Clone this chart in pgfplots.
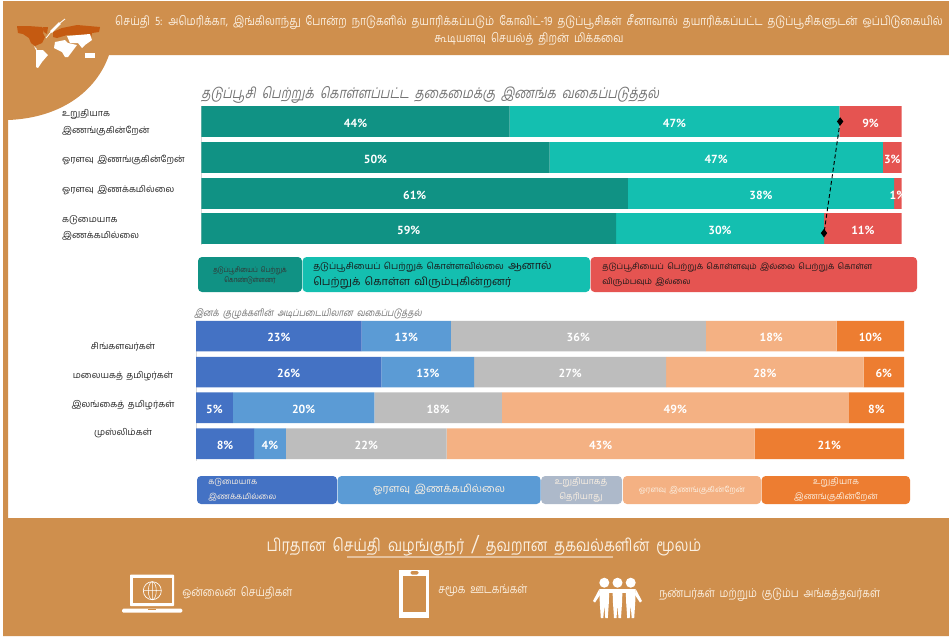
\documentclass[border=0pt]{standalone}
\usepackage{fontspec}
\usepackage{pgfplots}
\pgfplotsset{compat=1.18}
\newfontfamily\tam[Script=Tamil,WordSpace=1.6]{Hind Madurai}
\newfontfamily\tamn[Script=Tamil,FakeStretch=0.82,WordSpace=2]{Hind Madurai}
\newfontfamily\tami[Script=Tamil,FakeSlant=0.2,FakeStretch=0.82,WordSpace=2]{Hind Madurai}
\newfontfamily\din{PT Sans}
\newcommand{\fs}[2]{\fontsize{#1}{#2}\selectfont}
\definecolor{brownbg}{HTML}{CF8F4D}
\definecolor{mapbrown}{HTML}{C55A11}
\definecolor{cream}{HTML}{FBF0E2}
\definecolor{tealA}{HTML}{109284}
\definecolor{tealB}{HTML}{14BFB0}
\definecolor{redC}{HTML}{E55451}
\definecolor{blueA}{HTML}{4472C4}
\definecolor{blueB}{HTML}{5B9BD5}
\definecolor{greyC}{HTML}{BDBDBD}
\definecolor{peachD}{HTML}{F4B183}
\definecolor{orangeE}{HTML}{ED7D31}
\definecolor{chipgrey}{HTML}{ADB9CA}
\pgfplotsset{
  barchart/.style={
    scale only axis,
    xbar stacked,
    y dir=reverse,
    xmin=0,xmax=100,
    axis x line=none,
    axis y line=left,
    y axis line style={draw=black!15,-},
    major tick length=0pt,
    point meta=explicit symbolic,
    nodes near coords={\pgfplotspointmeta\%},
    every node near coord/.append style={text=white,yshift=-1.1pt,font=\din\bfseries\fs{8.8}{11}},
  },
}
\begin{document}
\begin{tikzpicture}[x=0.75pt,y=-0.75pt]
\useasboundingbox (0,0) rectangle (949,637);
\fill[white] (0,0) rectangle (949,637);
% brown frame
\fill[brownbg] (3,1) -- (949,1) -- (949,55) -- (109,55) .. controls (96,92) and (60,118) .. (8,120) -- (8,518) -- (949,518) -- (949,636) -- (3,636) -- cycle;
% map
\fill[mapbrown] (17,26) -- (28,26) -- (42,27) -- (44,29) -- (43,33) -- (45,37) -- (42,43) -- (35,46) -- (31,43) -- (29,38) -- (23,34) -- (18,33) -- cycle;
\fill[mapbrown] (43,27) -- (48,27) -- (47,34) -- (44,32) -- cycle;
\fill[mapbrown] (53,32) -- (62,28) -- (77,25) -- (100,27) -- (99,32) -- (92,33) -- (91,38) -- (80,35) -- (67,35) -- (57,38) -- (53,37) -- cycle;
\fill[white] (34,46) -- (37,49) -- (36,50) -- cycle;
\fill[white] (36,50) -- (43,50) -- (48,55) -- (42,62) -- (38,68) -- (36,67) -- (36,57) -- cycle;
\fill[white] (55,42) -- (65,40) -- (68,43) -- (77,45) -- (68,57) -- (65,57) -- (62,52) -- (54,48) -- cycle;
\fill[white] (67,36) -- (90,34) -- (92,40) -- (85,45) -- (82,48) -- (78,43) -- (70,43) -- cycle;
\fill[white] (85,53) -- (95,53) -- (95,58) -- (85,58) -- cycle;
\draw[white,line width=0.6pt] (46,38) -- (51,32);
\draw[white,line width=2pt] (51,32) -- (60,23);
\draw[white,line width=0.6pt] (60,23) -- (65,19);
% header text
\node[text=cream,font=\tamn\fs{9.35}{12.75},align=center] at (529,29.5) {செய்தி 5: அமெரிக்கா, இங்கிலாந்து போன்ற நாடுகளில் தயாரிக்கப்படும் கோவிட்-19 தடுப்பூசிகள் சீனாவால் தயாரிக்கப்பட்ட தடுப்பூசிகளுடன் ஒப்பிடுகையில்\\கூடியளவு செயல்த் திறன் மிக்கவை};
% chart titles
\node[anchor=west,inner sep=0pt,text=black!55,font=\tami\fs{11.1}{13}] at (201,95) {தடுப்பூசி பெற்றுக் கொள்ளப்பட்ட தகைமைக்கு இணங்க வகைப்படுத்தல்};
\node[anchor=west,inner sep=0pt,text=black!55,font=\tami\fs{7.4}{10}] at (194,314) {இனக் குழுக்களின் அடிப்படையிலான வகைப்படுத்தல்};

% vaccination status bars
\begin{axis}[barchart,
  at={(151.1pt,-79.5pt)},anchor=north west,
  width=525.2pt,height=104.5pt,
  bar width=23pt,
  ymin=-0.43,ymax=3.44,
  ytick={0.03,1.07,1.9,2.96},
  yticklabels={{உறுதியாக\\இணங்குகின்றேன்},{ஓரளவு இணங்குகின்றேன்},{ஓரளவு இணக்கமில்லை},{கடுமையாக\\இணக்கமில்லை}},
  yticklabel style={anchor=west,xshift=-108pt,align=left,text=black!85,font=\tam\fs{6.8}{12.4}},
]
\addplot[fill=tealA,draw=none] coordinates {(44,0)[44] (49.7,1)[50] (60.9,2)[61] (59.2,2.97)[59]};
\addplot[fill=tealB,draw=none] coordinates {(47.1,0)[47] (47.6,1)[47] (38,2)[38] (29.7,2.97)[30]};
\addplot[fill=redC,draw=none] coordinates {(8.9,0)[9] (2.7,1)[3] (1.1,2)[1] (11.1,2.97)[11]};
\end{axis}
% dashed connector over the bars
\begin{axis}[
  at={(151.1pt,-79.5pt)},anchor=north west,
  scale only axis,
  width=525.2pt,height=104.5pt,
  y dir=reverse,
  xmin=0,xmax=100,ymin=-0.43,ymax=3.44,
  hide axis,
]
\addplot[black,densely dashed,line width=0.7pt,mark=diamond*,mark size=2.6pt,mark options={solid,fill=black}] coordinates {(91.2,0) (88.9,3.1)};
\end{axis}
% vaccination legend chips
\fill[tealA,rounded corners=3pt] (198,257) rectangle (302,292);
\fill[tealB,rounded corners=3pt] (302.6,257) rectangle (590,292);
\fill[redC,rounded corners=3pt] (590.6,257) rectangle (917,292);
\node[text=black!80,font=\tamn\fs{5.5}{7.5},align=center] at (250,275) {தடுப்பூசியைப் பெற்றுக்\\கொண்டுள்ளனர்};
\node[anchor=west,inner sep=0pt,text=black!90,font=\tam\fs{8.2}{12.2},align=left] at (313,275) {{\fs{6.8}{12.2}தடுப்பூசியைப் பெற்றுக் கொள்ளவில்லை} ஆனால்\\பெற்றுக் கொள்ள விரும்புகின்றனர்};
\node[anchor=west,inner sep=0pt,text=black!90,font=\tam\fs{6.25}{11},align=left] at (602,275) {தடுப்பூசியைப் பெற்றுக் கொள்ளவும் இல்லை பெற்றுக் கொள்ள\\விரும்பவும் இல்லை};

% ethnic group bars
\begin{axis}[barchart,
  at={(147pt,-240.5pt)},anchor=north west,
  width=531pt,height=105.3pt,
  bar width=23pt,
  ymin=-0.43,ymax=3.47,
  ytick={0.3,1.1,1.92,2.69},
  yticklabels={{சிங்களவர்கள்},{மலையகத் தமிழர்கள்},{இலங்கைத் தமிழர்கள்},{முஸ்லிம்கள்}},
  yticklabel style={anchor=center,xshift=-54.75pt,align=center,text=black!85,font=\tam\fs{6.8}{10}},
]
\addplot[fill=blueA,draw=none] coordinates {(23.4,0)[23] (26.2,1)[26] (5.2,1.99)[5] (8.2,2.99)[8]};
\addplot[fill=blueB,draw=none] coordinates {(12.6,0)[13] (13.1,1)[13] (20,1.99)[20] (4.5,2.99)[4]};
\addplot[fill=greyC,draw=none] coordinates {(36,0)[36] (27.1,1)[27] (18,1.99)[18] (22.7,2.99)[22]};
\addplot[fill=peachD,draw=none] coordinates {(18.5,0)[18] (27.9,1)[28] (49,1.99)[49] (43.5,2.99)[43]};
\addplot[fill=orangeE,draw=none] coordinates {(9.5,0)[10] (5.7,1)[6] (7.8,1.99)[8] (21.1,2.99)[21]};
\end{axis}
% ethnic legend chips
\fill[blueA,rounded corners=3pt] (197,476) rectangle (337,504);
\fill[blueB,rounded corners=3pt] (337.6,476) rectangle (540.6,504);
\fill[chipgrey,rounded corners=3pt] (541.2,476) rectangle (622,504);
\fill[peachD,rounded corners=3pt] (623,476) rectangle (761,504);
\fill[orangeE,rounded corners=3pt] (761.6,476) rectangle (910,504);
\node[anchor=west,inner sep=0pt,text=cream,font=\tam\fs{6}{11},align=left] at (208,490) {கடுமையாக\\இணக்கமில்லை};
\node[text=cream,font=\tam\fs{8}{10},align=center] at (439,490) {ஓரளவு இணக்கமில்லை};
\node[text=cream,font=\tam\fs{6.5}{11},align=center] at (581,490) {உறுதியாகத்\\தெரியாது};
\node[text=cream,font=\tam\fs{5.9}{10},align=center] at (692,490) {ஓரளவு இணங்குகின்றேன்};
\node[text=cream,font=\tam\fs{6.5}{11},align=center] at (836,490) {உறுதியாக\\இணங்குகின்றேன்};

% footer
\node[text=cream,font=\tamn\fs{13}{14}] at (484,546) {பிரதான செய்தி வழங்குநர் {\fs{17}{14}/} தவறான தகவல்களின் மூலம்};
\draw[draw=brownbg!55!white,line width=1.5pt] (347,557) -- (613,557);
\node[anchor=west,inner sep=0pt,text=cream,font=\tamn\fs{9.1}{10}] at (182,593) {ஒன்லைன் செய்திகள்};
\node[anchor=west,inner sep=0pt,text=cream,font=\tamn\fs{9.1}{10}] at (438,591) {சமூக ஊடகங்கள்};
\node[anchor=west,inner sep=0pt,text=cream,font=\tamn\fs{9.1}{10}] at (659,595) {நண்பர்கள் மற்றும் குடும்ப அங்கத்தவர்கள்};
% laptop
\fill[white,rounded corners=0.5pt] (130,574.7) rectangle (174,606);
\fill[brownbg] (132.7,578) rectangle (171.7,602.7);
\draw[white,line width=0.5pt] (152.3,590.7) circle (9);
\draw[white,line width=0.4pt] (152.3,590.7) ellipse (4 and 9) (143.3,590.7) -- (161.3,590.7) (152.3,581.7) -- (152.3,599.7);
\fill[white,rounded corners=1pt] (122,608.7) rectangle (182.3,612.7);
\fill[brownbg] (148,608.7) rectangle (156,610);
% phone
\fill[white] (399.3,569.7) rectangle (429.3,617.7);
\fill[brownbg] (403.3,576) rectangle (426,612);
\fill[brownbg,rounded corners=1pt] (410.5,571) rectangle (418.5,574.5);
% people
\foreach \cx in {604.3,617.5,630.7}{
  \fill[white] (\cx,582.7) circle (5);
  \fill[white] (\cx-5,589) -- (\cx+5,589) -- (\cx+4.5,603) -- (\cx+3.5,618) -- (\cx+1,618) -- (\cx,605) -- (\cx-1,618) -- (\cx-3.5,618) -- (\cx-4.5,603) -- cycle;
}
\fill[white] (599.3,589) -- (593,601) -- (595,602.5) -- (600,595) -- cycle;
\fill[white] (635.7,589) -- (642,601) -- (640,602.5) -- (635,595) -- cycle;
\fill[white] (609,589) -- (613,589) -- (613,593) -- (609,593) -- cycle;
\fill[white] (622,589) -- (626,589) -- (626,593) -- (622,593) -- cycle;
\end{tikzpicture}
\end{document}
